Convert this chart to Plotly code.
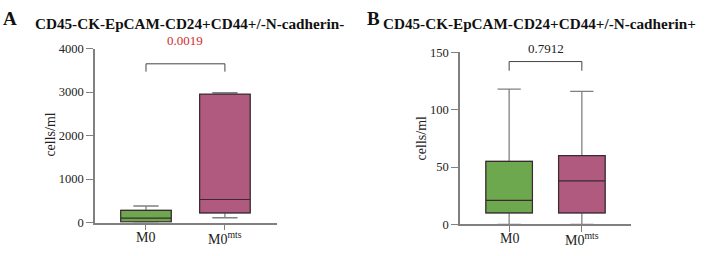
import plotly.graph_objects as go

# ---- data ----
categories = ["M0", "M0<sup>mts</sup>"]

# Panel A: CD45-CK-EpCAM-CD24+CD44+/-N-cadherin-
a_min = [0, 110]
a_q1 = [15, 220]
a_median = [100, 530]
a_q3 = [280, 2950]
a_max = [380, 2985]
a_ticks = [0, 1000, 2000, 3000, 4000]
a_bracket = [3470, 3650]
a_p = "0.0019"

# Panel B: CD45-CK-EpCAM-CD24+CD44+/-N-cadherin+
b_min = [0, 0]
b_q1 = [10, 10]
b_median = [21, 38]
b_q3 = [55, 60]
b_max = [118, 116]
b_ticks = [0, 50, 100, 150]
b_bracket = [134, 142]
b_p = "0.7912"

colors = ["#6ea84e", "#b05a80"]
FONT = "Liberation Serif, Times New Roman, DejaVu Serif, serif"
AX = "#808080"
DARK = "#3a2a30"

W, H = 708, 256

fig = go.Figure()

def add_panel(xa, ya, mins, q1, med, q3, maxs):
    for i in range(2):
        # whiskers (gray) + box
        fig.add_trace(go.Box(
            x=[i], q1=[q1[i]], median=[med[i]], q3=[q3[i]],
            lowerfence=[mins[i]], upperfence=[maxs[i]],
            fillcolor=colors[i], line=dict(color=AX, width=1.3),
            width=0.64, whiskerwidth=0.5, boxpoints=False,
            xaxis=xa, yaxis=ya, showlegend=False, hoverinfo="skip"))
        # box outline & median (dark)
        fig.add_trace(go.Box(
            x=[i], q1=[q1[i]], median=[med[i]], q3=[q3[i]],
            lowerfence=[q1[i]], upperfence=[q3[i]],
            fillcolor=colors[i], line=dict(color=DARK, width=1.2),
            width=0.64, whiskerwidth=0, boxpoints=False,
            xaxis=xa, yaxis=ya, showlegend=False, hoverinfo="skip"))

add_panel("x", "y", a_min, a_q1, a_median, a_q3, a_max)
add_panel("x2", "y2", b_min, b_q1, b_median, b_q3, b_max)

# brackets
fig.add_trace(go.Scatter(x=[0, 0, 1, 1], y=[a_bracket[0], a_bracket[1], a_bracket[1], a_bracket[0]],
                         mode="lines", line=dict(color="#444444", width=1),
                         xaxis="x", yaxis="y", showlegend=False, hoverinfo="skip", cliponaxis=False))
fig.add_trace(go.Scatter(x=[0, 0, 1, 1], y=[b_bracket[0], b_bracket[1], b_bracket[1], b_bracket[0]],
                         mode="lines", line=dict(color="#444444", width=1),
                         xaxis="x2", yaxis="y2", showlegend=False, hoverinfo="skip", cliponaxis=False))

def px_x(p):
    return p / W

def px_y(p):
    return 1 - p / H

xcommon = dict(showgrid=False, zeroline=False, showline=True, linecolor=AX, linewidth=1.5,
               ticks="outside", tickcolor=AX, ticklen=6, tickwidth=1.3,
               tickvals=[0, 1], showticklabels=False)
ycommon = dict(showgrid=False, zeroline=False, showline=True, linecolor=AX, linewidth=1.5,
               ticks="outside", tickcolor=AX, ticklen=7, tickwidth=1.3,
               tickfont=dict(family=FONT, size=12.5, color="#222"))

fig.update_layout(
    width=W, height=H,
    margin=dict(l=0, r=0, t=0, b=0),
    paper_bgcolor="white", plot_bgcolor="white",
    font=dict(family=FONT),
    boxmode="overlay",
    xaxis=dict(**xcommon, domain=[px_x(95), px_x(277)], range=[-0.646, 1.66], anchor="y"),
    yaxis=dict(**ycommon, domain=[px_y(228), px_y(44)], range=[0, 4000],
               tickvals=a_ticks, anchor="x"),
    xaxis2=dict(**xcommon, domain=[px_x(460), px_x(631)], range=[-0.676, 1.676], anchor="y2"),
    yaxis2=dict(**ycommon, domain=[px_y(230), px_y(48)], range=[0, 150],
                tickvals=b_ticks, anchor="x2"),
)

ann = []
# panel letters and titles
ann.append(dict(text="<b>A</b>", x=px_x(1), y=px_y(12), xref="paper", yref="paper",
                xanchor="left", yanchor="middle", showarrow=False,
                font=dict(family=FONT, size=19, color="#111")))
ann.append(dict(text="<b>CD45-CK-EpCAM-CD24+CD44+/-N-cadherin-</b>", x=px_x(33), y=px_y(17),
                xref="paper", yref="paper", xanchor="left", yanchor="middle", showarrow=False,
                font=dict(family=FONT, size=15.2, color="#111")))
ann.append(dict(text="<b>B</b>", x=px_x(365), y=px_y(12), xref="paper", yref="paper",
                xanchor="left", yanchor="middle", showarrow=False,
                font=dict(family=FONT, size=19, color="#111")))
ann.append(dict(text="<b>CD45-CK-EpCAM-CD24+CD44+/-N-cadherin+</b>", x=px_x(381), y=px_y(17),
                xref="paper", yref="paper", xanchor="left", yanchor="middle", showarrow=False,
                font=dict(family=FONT, size=15.2, color="#111")))
# y axis titles
ann.append(dict(text="cells/ml", x=px_x(51), y=px_y(135), xref="paper", yref="paper",
                xanchor="center", yanchor="middle", textangle=-90, showarrow=False,
                font=dict(family=FONT, size=14, color="#222")))
ann.append(dict(text="cells/ml", x=px_x(421), y=px_y(139), xref="paper", yref="paper",
                xanchor="center", yanchor="middle", textangle=-90, showarrow=False,
                font=dict(family=FONT, size=14, color="#222")))
# category labels
for xa, ybase in (("x", 244), ("x2", 245)):
    for i, c in enumerate(categories):
        ann.append(dict(text=c, x=i, y=px_y(ybase), xref=xa, yref="paper",
                        xanchor="center", yanchor="middle", showarrow=False,
                        font=dict(family=FONT, size=14, color="#222")))
# p-values
ann.append(dict(text=a_p, x=0.5, y=a_bracket[1], xref="x", yref="y", yshift=14,
                xanchor="center", yanchor="bottom", showarrow=False,
                font=dict(family=FONT, size=13, color="#d42a2a")))
ann.append(dict(text=b_p, x=0.5, y=b_bracket[1], xref="x2", yref="y2", yshift=4,
                xanchor="center", yanchor="bottom", showarrow=False,
                font=dict(family=FONT, size=13, color="#222")))
fig.update_layout(annotations=ann)

fig.write_html("out.html", config={"displayModeBar": False},
               post_script="document.body.style.margin='0';document.body.style.padding='0';")
